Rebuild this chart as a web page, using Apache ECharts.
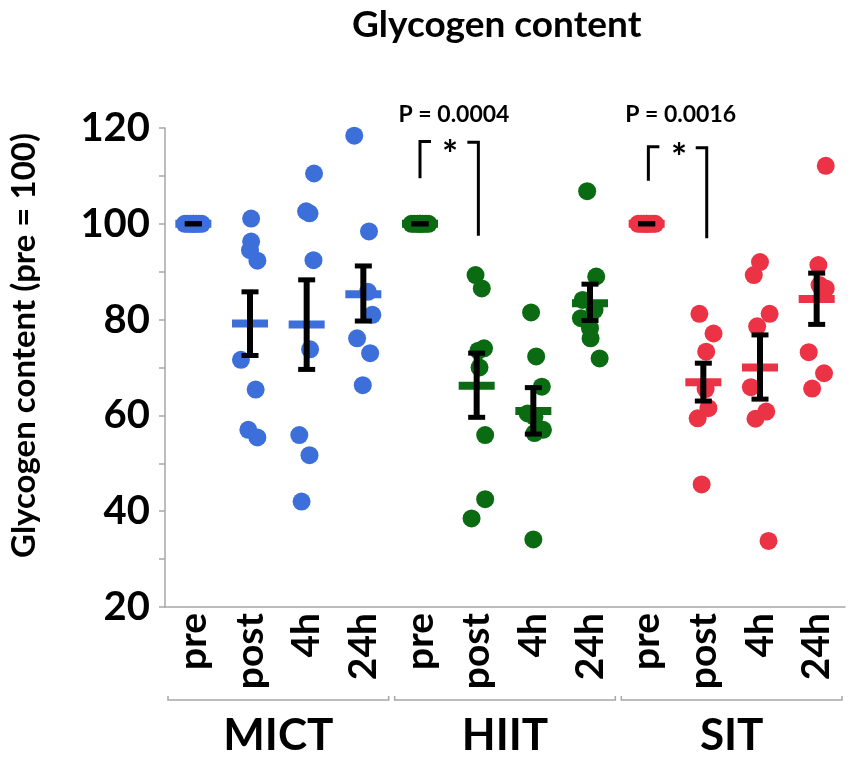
<!DOCTYPE html>
<html>
<head>
<meta charset="utf-8">
<script src="https://cdn.jsdelivr.net/npm/echarts@6/dist/echarts.min.js"></script>
<style>html,body{margin:0;padding:0;background:#fff}#chart{width:851px;height:759px}</style>
</head>
<body>
<div id="chart"></div>
<script>
// ---- data ----
const timepoints = ['pre', 'post', '4h', '24h'];
const groups = ['MICT', 'HIIT', 'SIT'];
const yTicks = [20, 40, 60, 80, 100, 120];

const mictPoints = [
  [100, 100, 100, 100, 100, 100, 100, 100],
  [101.1, 96.3, 94.5, 92.3, 71.6, 65.4, 57.0, 55.4],
  [110.5, 102.6, 102.2, 92.4, 73.8, 55.9, 51.7, 42.0],
  [118.4, 98.4, 85.8, 81.0, 76.1, 73.0, 66.3]
];
const mictJitter = [
  [-0.15, -0.1, -0.05, 0, 0.05, 0.1, 0.15, 0],
  [0.02, 0.02, 0, 0.13, -0.16, 0.1, -0.03, 0.13],
  [0.13, -0.01, 0.05, 0.12, 0.06, -0.13, 0.05, -0.09],
  [-0.16, 0.1, 0.08, 0.16, -0.11, 0.12, -0.01]
];
const hiitPoints = [
  [100, 100, 100, 100, 100, 100, 100, 100],
  [89.3, 86.5, 74.0, 73.5, 70.0, 55.9, 42.5, 38.5],
  [81.5, 72.3, 66.0, 60.4, 59.7, 57.0, 56.3, 34.1],
  [106.8, 89.0, 84.1, 82.0, 80.3, 78.2, 76.1, 71.9]
];
const hiitJitter = [
  [-0.15, -0.1, -0.05, 0, 0.05, 0.1, 0.15, 0],
  [-0.02, 0.09, 0.13, 0.03, 0.05, 0.15, 0.15, -0.09],
  [-0.04, 0.05, 0.15, -0.1, 0.02, 0.17, 0.02, 0],
  [-0.05, 0.11, -0.13, 0.08, -0.16, 0, 0.01, 0.17]
];
const sitPoints = [
  [100, 100, 100, 100, 100, 100, 100, 100],
  [81.2, 77.1, 73.3, 65.5, 61.5, 59.4, 45.6],
  [92.0, 89.3, 81.2, 78.6, 65.9, 60.8, 59.3, 33.8],
  [112.1, 91.4, 87.2, 86.5, 73.2, 68.8, 65.6]
];
const sitJitter = [
  [-0.15, -0.1, -0.05, 0, 0.05, 0.1, 0.15, 0],
  [-0.07, 0.18, 0.05, 0.04, 0.09, -0.1, -0.03],
  [0, -0.11, 0.17, -0.05, -0.16, 0.11, -0.08, 0.15],
  [0.16, 0.03, 0.05, 0.16, -0.14, 0.13, -0.08]
];

// mean and SEM limits, 12 conditions in axis order
const meanValues = [100, 79.2, 79.0, 85.3, 100, 66.2, 60.9, 83.4, 100, 66.9, 70.0, 84.3];
const semLow     = [100, 72.5, 69.6, 79.7, 100, 59.6, 56.1, 79.8, 100, 63.0, 63.4, 79.0];
const semHigh    = [100, 85.8, 88.3, 91.2, 100, 73.0, 65.8, 87.4, 100, 70.9, 76.8, 89.7];

// significance brackets: [leftX, leftBottom, leftTop, rightX, rightBottom, rightTop]
const sigBrackets = [
  [4.0, 109.5, 117.2, 5.03, 97.5, 117.0],
  [8.03, 109.0, 116.1, 9.06, 97.0, 115.9]
];
const sigPText = ['P = 0.0004', 'P = 0.0016'];
const sigPPos = [[4.6, 122.7], [8.6, 122.7]];
const sigStarPos = [[4.53, 116.0], [8.57, 115.4]];

// ---- build ----
const colors = ['#3D6FDB', '#0A6B12', '#EC3346'];
const FONT = 'Lato';
const W = 'bold';
const allPoints = [mictPoints, hiitPoints, sitPoints];
const allJitter = [mictJitter, hiitJitter, sitJitter];
const categories = [];
groups.forEach(() => timepoints.forEach(t => categories.push(t)));

const scatterSeries = groups.map((g, gi) => {
  const data = [];
  allPoints[gi].forEach((vals, t) => {
    vals.forEach((v, k) => data.push([gi * 4 + t + allJitter[gi][t][k], v]));
  });
  return {
    type: 'scatter', name: g, xAxisIndex: 1, yAxisIndex: 0,
    symbol: 'circle', symbolSize: 18, silent: true,
    itemStyle: { color: colors[gi], opacity: 1 },
    data: data, z: 2
  };
});

const statData = meanValues.map((m, i) => [i, m, semLow[i], semHigh[i], Math.floor(i / 4)]);

const statSeries = {
  type: 'custom', xAxisIndex: 1, yAxisIndex: 0, silent: true, z: 3,
  data: statData,
  renderItem: function (params, api) {
    const x = api.value(0);
    const c = api.coord([x, api.value(1)]);
    const lo = api.coord([x, api.value(2)]);
    const hi = api.coord([x, api.value(3)]);
    const col = colors[api.value(4)];
    return {
      type: 'group',
      children: [
        { type: 'rect', shape: { x: c[0] - 18, y: c[1] - 4, width: 36, height: 8 }, style: { fill: col } },
        { type: 'line', shape: { x1: c[0], y1: hi[1], x2: c[0], y2: lo[1] }, style: { stroke: '#000', lineWidth: 6 } },
        { type: 'line', shape: { x1: c[0] - 8.5, y1: hi[1], x2: c[0] + 8.5, y2: hi[1] }, style: { stroke: '#000', lineWidth: 5 } },
        { type: 'line', shape: { x1: c[0] - 8.5, y1: lo[1], x2: c[0] + 8.5, y2: lo[1] }, style: { stroke: '#000', lineWidth: 5 } }
      ]
    };
  }
};

const sigSeries = {
  type: 'custom', xAxisIndex: 1, yAxisIndex: 0, silent: true, z: 4, clip: false,
  data: sigBrackets.map((b, i) => [i]),
  renderItem: function (params, api) {
    const i = api.value(0);
    const b = sigBrackets[i];
    const lb = api.coord([b[0], b[1]]), lt = api.coord([b[0], b[2]]);
    const rb = api.coord([b[3], b[4]]), rt = api.coord([b[3], b[5]]);
    const p = api.coord(sigPPos[i]);
    const s = api.coord(sigStarPos[i]);
    return {
      type: 'group',
      children: [
        { type: 'polyline', shape: { points: [[lb[0], lb[1]], [lt[0], lt[1]], [lt[0] + 11, lt[1]]] }, style: { stroke: '#000', lineWidth: 3, fill: null } },
        { type: 'polyline', shape: { points: [[rt[0] - 11, rt[1]], [rt[0], rt[1]], [rb[0], rb[1]]] }, style: { stroke: '#000', lineWidth: 3, fill: null } },
        { type: 'text', style: { text: sigPText[i], x: p[0], y: p[1], align: 'center', verticalAlign: 'middle', fill: '#000', font: W + ' 23px ' + FONT } },
        { type: 'text', style: { text: '*', x: s[0], y: s[1] + 9, align: 'center', verticalAlign: 'middle', fill: '#000', font: W + ' 38px ' + FONT } }
      ]
    };
  }
};

const groupSeries = {
  type: 'custom', xAxisIndex: 1, yAxisIndex: 0, silent: true, z: 4, clip: false,
  data: groups.map((g, gi) => [gi]),
  renderItem: function (params, api) {
    const gi = api.value(0);
    const l = api.coord([gi * 4 - 0.5, yTicks[0]]);
    const r = api.coord([gi * 4 + 3.5, yTicks[0]]);
    const y = l[1] + 93;
    const x1 = l[0] + 3, x2 = r[0] - 3;
    return {
      type: 'group',
      children: [
        { type: 'polyline', shape: { points: [[x1, y - 4], [x1, y], [x2, y], [x2, y - 4]] }, style: { stroke: '#A6A6A6', lineWidth: 1.5, fill: null } },
        { type: 'text', style: { text: groups[gi], x: (l[0] + r[0]) / 2, y: y + 36, align: 'center', verticalAlign: 'middle', fill: '#000', font: W + ' 44px ' + FONT } }
      ]
    };
  }
};

const chart = echarts.init(document.getElementById('chart'), null, { renderer: 'canvas' });
chart.setOption({
  animation: false,
  backgroundColor: '#fff',
  title: {
    text: 'Glycogen content', left: 347, top: 2,
    textStyle: { fontFamily: FONT, fontWeight: W, fontSize: 37, color: '#000' }
  },
  grid: { left: 165, right: 6, top: 128, bottom: 152, containLabel: false },
  xAxis: [
    {
      type: 'category', data: categories, boundaryGap: true,
      axisLine: { show: true, onZero: false, lineStyle: { color: '#A6A6A6', width: 1.5 } },
      axisTick: { show: false },
      axisLabel: { rotate: 90, margin: 6, interval: 0, color: '#000', fontFamily: FONT, fontWeight: W, fontSize: 39 },
      splitLine: { show: false }
    },
    { type: 'value', min: -0.5, max: 11.5, show: false, splitLine: { show: false } }
  ],
  yAxis: [{
    type: 'value', min: yTicks[0], max: yTicks[yTicks.length - 1], interval: 20,
    name: 'Glycogen content (pre = 100)', nameLocation: 'middle', nameRotate: 90, nameGap: 124,
    nameTextStyle: { fontFamily: FONT, fontWeight: W, fontSize: 33, color: '#000', padding: [0, 0, 0, 44] },
    axisLine: { show: true, onZero: false, lineStyle: { color: '#A6A6A6', width: 1.5 } },
    axisTick: { show: true, length: 6, lineStyle: { color: '#A6A6A6', width: 1.5 } },
    minorTick: { show: true, splitNumber: 2, length: 6, lineStyle: { color: '#A6A6A6', width: 1.5 } },
    axisLabel: { margin: 15, padding: [14, 0, 0, 0], color: '#000', fontFamily: FONT, fontWeight: W, fontSize: 40 },
    splitLine: { show: false }
  }],
  series: [...scatterSeries, statSeries, sigSeries, groupSeries]
});
</script>
</body>
</html>
